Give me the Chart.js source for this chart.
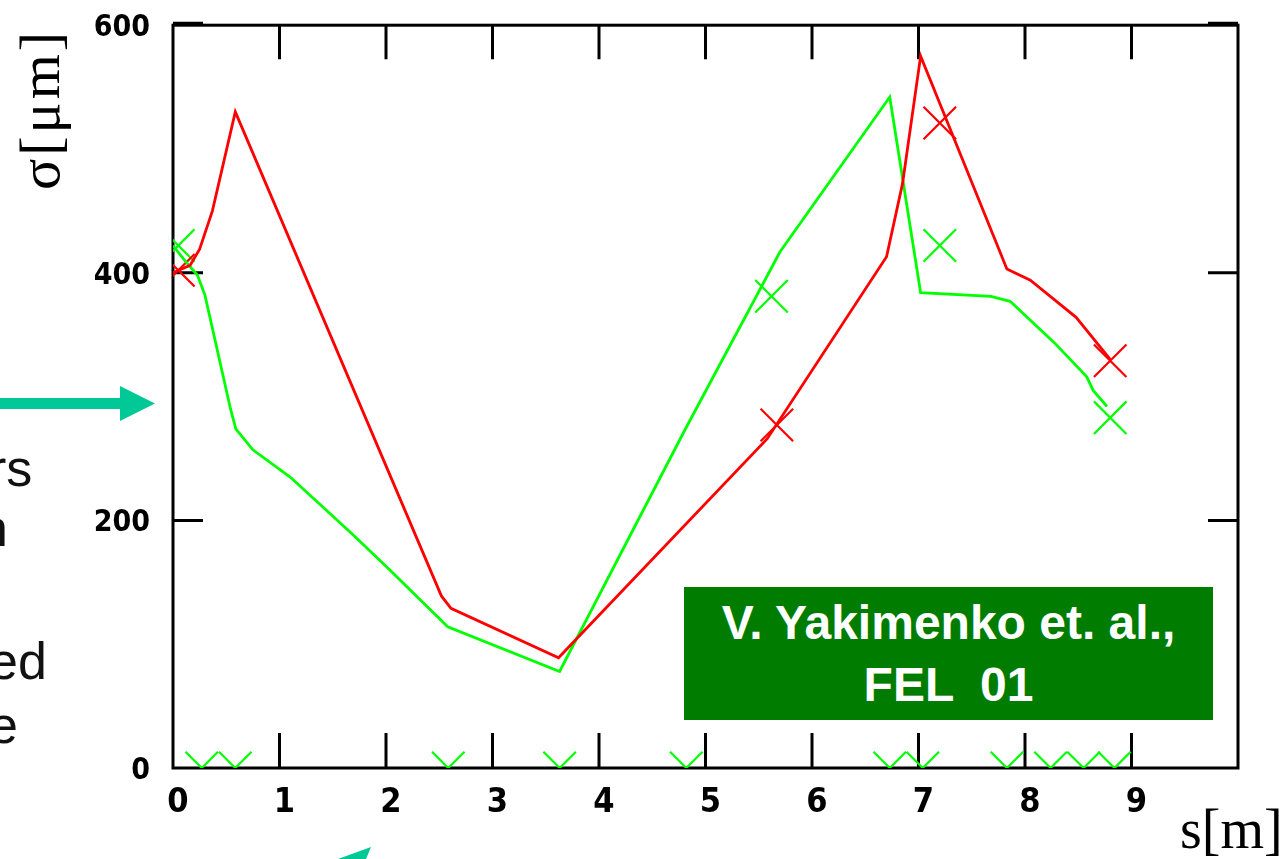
<!DOCTYPE html>
<html>
<head>
<meta charset="utf-8">
<title>Beam size along the line</title>
<script src="https://cdn.jsdelivr.net/npm/chart.js@4.4.1/dist/chart.umd.min.js"></script>
<style>
  body { margin: 0; background: #fff; }
  #wrap { position: relative; width: 1286px; height: 859px; overflow: hidden; background: #fff; }
  #beamChart { position: absolute; left: 0; top: 0; }
  .note { position: absolute; font-family: "Liberation Sans", Arial, sans-serif; font-size: 52px; line-height: 52px; color: #111; white-space: pre; }
  .axisTitle { position: absolute; font-family: "Liberation Serif", "Times New Roman", serif; color: #000; white-space: pre; }
  #sigmaTitle { left: -40px; top: 80px; width: 160px; height: 60px; line-height: 60px; font-size: 58px; letter-spacing: 3px; text-align: center; transform: rotate(-90deg); }
  #sTitle { left: 1180px; top: 801px; font-size: 56px; line-height: 56px; }
  #ref { position: absolute; left: 684px; top: 587px; width: 529px; height: 133px; background: #007d00; color: #fff;
         font-family: "Liberation Sans", Arial, sans-serif; font-weight: bold; font-size: 48px; line-height: 62px;
         text-align: center; white-space: pre; box-sizing: border-box; padding-top: 5px; }
  #arrows { position: absolute; left: 0; top: 0; }
</style>
</head>
<body>
<div id="wrap">
  <canvas id="beamChart" width="1286" height="859"></canvas>
  <svg id="arrows" width="1286" height="859">
    <rect x="0" y="398" width="122" height="11" fill="#00c896"/>
    <polygon points="120,386 155,403.5 120,421" fill="#00c896"/>
    <polygon points="338,859 371,847 366,859" fill="#00c896"/>
  </svg>
  <div class="note" style="left:-11px; top:442px;">rs</div>
  <div class="note" style="left:-21px; top:502px;">n</div>
  <div class="note" style="left:-11px; top:635px;">ed</div>
  <div class="note" style="left:-11px; top:699px;">e</div>
  <div class="axisTitle" id="sigmaTitle">σ[μm]</div>
  <div class="axisTitle" id="sTitle">s[m]</div>
  <div id="ref">V. Yakimenko et. al.,
FEL  01</div>
</div>
<script>
// position along the line, m
const sTicks = [0, 1, 2, 3, 4, 5, 6, 7, 8, 9];
// beam size, um
const sigmaTicks = [0, 200, 400, 600];

// simulated envelope, first plane (red)
const sRed = [0, 0.16, 0.25, 0.37, 0.585, 2.52, 2.61, 3.62, 5.58, 6.70, 6.85, 7.02, 7.83, 8.05, 8.48, 8.80];
const sigmaRed = [400, 406, 419, 450, 530, 139, 129, 89, 266, 413, 472, 575, 403, 394, 364, 330];

// simulated envelope, second plane (green)
const sGreen = [0, 0.11, 0.23, 0.30, 0.42, 0.54, 0.59, 0.75, 1.10, 1.67, 2.00, 2.33, 2.58, 3.63, 4.80, 5.70, 6.73, 7.02, 7.68, 7.86, 8.27, 8.58, 8.64, 8.77];
const sigmaGreen = [422, 410, 398, 382, 336, 290, 274, 257, 235, 190, 163, 135, 114, 78, 272, 417, 542, 384, 381, 377, 344, 316, 305, 292];

// measured sizes at the monitors
const sRedMeas = [0.05, 5.67, 7.20, 8.80];
const sigmaRedMeas = [402, 277, 521, 329];
const sGreenMeas = [0.05, 5.62, 7.20, 8.80];
const sigmaGreenMeas = [422, 381, 422, 283];

// quadrupole positions, marked on the axis
const sQuads = [0.27, 0.585, 2.585, 3.63, 4.82, 6.73, 7.04, 7.83, 8.24, 8.55, 8.84];
const sigmaQuads = [0, 0, 0, 0, 0, 0, 0, 0, 0, 0, 0];

function points(xs, ys) {
    return xs.map((x, i) => ({x: x, y: ys[i]}));
}

const RED = '#ff0000';
const GREEN = '#00ff00';

function lineSet(xs, ys, color) {
    return {
        data: points(xs, ys),
        showLine: true,
        borderColor: color,
        borderWidth: 2.8,
        pointRadius: 0,
        tension: 0
    };
}

function markSet(xs, ys, color) {
    return {
        data: points(xs, ys),
        showLine: false,
        pointStyle: 'crossRot',
        pointRadius: 23,
        pointBorderWidth: 2.2,
        pointBorderColor: color,
        borderColor: color
    };
}

// keep the plot box where it is, whatever the label sizes
function noPadding(scale) {
    scale.paddingTop = 0;
    scale.paddingBottom = 0;
    scale.paddingLeft = 0;
    scale.paddingRight = 0;
}

// box, inner tick marks on all four sides
const frameTicks = {
    id: 'frameTicks',
    beforeDatasetsDraw(chart) {
        const {ctx, chartArea: a, scales: {x, y}} = chart;
        ctx.save();
        ctx.strokeStyle = '#000';
        ctx.lineWidth = 3;
        ctx.strokeRect(a.left, a.top, a.right - a.left, a.bottom - a.top);
        ctx.beginPath();
        sTicks.forEach(v => {
            if (v === 0) return;
            const px = x.getPixelForValue(v);
            ctx.moveTo(px, a.top);
            ctx.lineTo(px, a.top + 34);
            ctx.moveTo(px, a.bottom);
            ctx.lineTo(px, a.bottom - 35);
        });
        sigmaTicks.forEach(v => {
            if (v === 0) return;
            let py = y.getPixelForValue(v);
            if (v === 600) py -= 2;
            ctx.moveTo(a.left, py);
            ctx.lineTo(a.left + 30, py);
            ctx.moveTo(a.right, py);
            ctx.lineTo(a.right - 30, py);
        });
        ctx.stroke();
        ctx.restore();
    }
};

const ctx = document.getElementById('beamChart').getContext('2d');
const chart = new Chart(ctx, {
    type: 'scatter',
    data: {
        datasets: [
            lineSet(sRed, sigmaRed, RED),
            lineSet(sGreen, sigmaGreen, GREEN),
            markSet(sRedMeas, sigmaRedMeas, RED),
            markSet(sGreenMeas, sigmaGreenMeas, GREEN),
            markSet(sQuads, sigmaQuads, GREEN)
        ]
    },
    options: {
        responsive: false,
        animation: false,
        devicePixelRatio: 1,
        layout: { padding: { top: 21, right: 48, left: 0, bottom: 0 } },
        plugins: {
            legend: { display: false },
            tooltip: { enabled: false }
        },
        scales: {
            x: {
                type: 'linear',
                min: 0,
                max: 10,
                afterBuildTicks(scale) { scale.ticks = sTicks.map(v => ({value: v})); },
                afterFit(scale) { scale.height = 91; noPadding(scale); },
                grid: { display: false, drawTicks: false },
                border: { display: false },
                ticks: {
                    color: '#000',
                    padding: 15,
                    labelOffset: 5,
                    maxRotation: 0,
                    autoSkip: false,
                    font: { family: '"DejaVu Sans Condensed", "DejaVu Sans"', size: 34, weight: 'bold' }
                }
            },
            y: {
                type: 'linear',
                min: 0,
                max: 600,
                afterBuildTicks(scale) { scale.ticks = sigmaTicks.map(v => ({value: v})); },
                afterFit(scale) { scale.width = 173; noPadding(scale); },
                grid: { display: false, drawTicks: false },
                border: { display: false },
                ticks: {
                    color: '#000',
                    padding: 23,
                    labelOffset: 3,
                    font: { family: '"DejaVu Sans Condensed", "DejaVu Sans"', size: 30, weight: 'bold' }
                }
            }
        }
    },
    plugins: [frameTicks]
});
</script>
</body>
</html>
